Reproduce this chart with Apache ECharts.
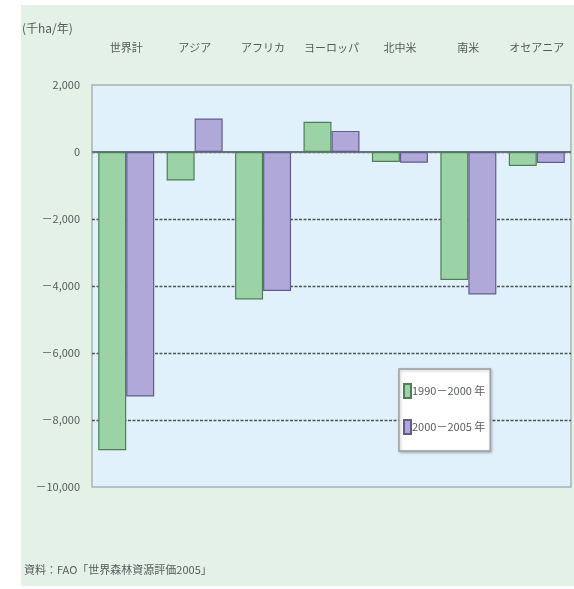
<!DOCTYPE html>
<html>
<head>
<meta charset="utf-8">
<script src="https://cdn.jsdelivr.net/npm/echarts@6/dist/echarts.min.js"></script>
<style>
  html, body { margin: 0; padding: 0; background: #ffffff; }
  #chart { width: 574px; height: 589px; }
</style>
</head>
<body>
<div id="chart"></div>
<script>
// Annual net change in forest area by region (thousand ha / year)
const regions = ['世界計', 'アジア', 'アフリカ', 'ヨーロッパ', '北中米', '南米', 'オセアニア'];
const period1Name = '1990－2000 年';
const period2Name = '2000－2005 年';
const period1 = [-8900, -850, -4400, 900, -300, -3820, -420];
const period2 = [-7300, 1000, -4150, 630, -320, -4250, -330];
const yTicks = [2000, 0, -2000, -4000, -6000, -8000, -10000];

const FONT = '"Liberation Sans Narrow", "Noto Sans CJK JP", sans-serif';
const TEXT = '#555b5c';

function tickLabel(v) {
  if (v === 0) return '0';
  const s = Math.abs(v).toLocaleString('en-US');
  return v < 0 ? '－' + s : s;
}

const chart = echarts.init(document.getElementById('chart'), null, { renderer: 'canvas' });

chart.setOption({
  backgroundColor: '#ffffff',
  animation: false,
  graphic: [
    {
      type: 'rect', z: -10, silent: true,
      shape: { x: 21, y: 5, width: 553, height: 581 },
      style: { fill: '#e4f1e7' }
    },
    {
      type: 'text', left: 22, top: 22, silent: true,
      style: { text: '(千ha/年)', fill: TEXT, font: '12px ' + FONT }
    },
    {
      type: 'text', left: 24, top: 564, silent: true,
      style: { text: '資料：FAO「世界森林資源評価2005」', fill: TEXT, font: '11px ' + FONT }
    }
  ],
  grid: {
    left: 92, right: 3, top: 85, bottom: 102,
    show: true,
    backgroundColor: '#e0f1fb',
    borderColor: '#a7b3b6',
    borderWidth: 1.5
  },
  legend: {
    left: 399, top: 369,
    orient: 'vertical',
    backgroundColor: '#ffffff',
    borderColor: '#9aa0a2',
    borderWidth: 1.5,
    shadowColor: 'rgba(0,0,0,0.25)', shadowBlur: 3, shadowOffsetX: 1, shadowOffsetY: 1,
    padding: [14, 5, 16, 4],
    itemWidth: 7, itemHeight: 14, itemGap: 20,
    icon: 'rect',
    textStyle: { color: TEXT, fontFamily: FONT, fontSize: 11, padding: [0, 0, 0, -4] },
    data: [period1Name, period2Name]
  },
  xAxis: {
    type: 'category',
    position: 'top',
    data: regions,
    axisLine: { show: false },
    axisTick: { show: false },
    axisLabel: { interval: 0, margin: 32, color: TEXT, fontFamily: FONT, fontSize: 11 }
  },
  yAxis: {
    type: 'value',
    min: -10000, max: 2000, interval: 2000,
    axisLine: { show: false },
    axisTick: { show: false },
    axisLabel: {
      margin: 12, color: TEXT, fontFamily: FONT, fontSize: 11,
      formatter: tickLabel
    },
    splitLine: {
      show: true,
      showMinLine: false, showMaxLine: false,
      lineStyle: { color: '#4d5456', type: [3, 1.5], width: 1.3 }
    }
  },
  series: [
    {
      name: period1Name,
      type: 'bar',
      data: period1,
      barWidth: 28,
      barGap: '0%',
      itemStyle: { color: '#9bd3a7', borderColor: '#4f7d5a', borderWidth: 1.2 },
      markLine: {
        silent: true, symbol: 'none', label: { show: false },
        lineStyle: { color: '#6a7375', type: 'solid', width: 2 },
        data: [{ yAxis: 0 }],
        z: 1
      }
    },
    {
      name: period2Name,
      type: 'bar',
      data: period2,
      barWidth: 28,
      itemStyle: { color: '#afa8d8', borderColor: '#625c8c', borderWidth: 1.2 }
    }
  ]
});
</script>
</body>
</html>
